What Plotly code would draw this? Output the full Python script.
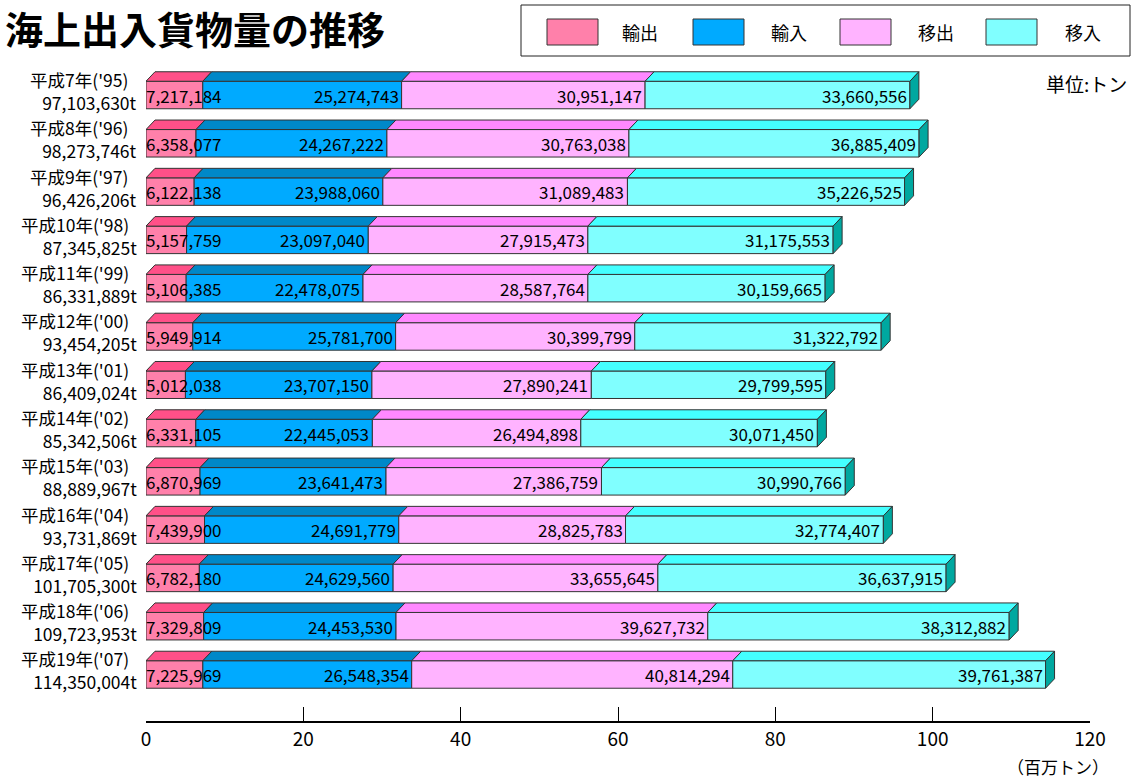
import plotly.graph_objects as go

# ---------------- data ----------------
years = ["平成7年('95)", "平成8年('96)", "平成9年('97)", "平成10年('98)", "平成11年('99)",
         "平成12年('00)", "平成13年('01)", "平成14年('02)", "平成15年('03)", "平成16年('04)",
         "平成17年('05)", "平成18年('06)", "平成19年('07)"]
export_t = [7217184, 6358077, 6122138, 5157759, 5106385, 5949914, 5012038,
            6331105, 6870969, 7439900, 6782180, 7329809, 7225969]
import_t = [25274743, 24267222, 23988060, 23097040, 22478075, 25781700, 23707150,
            22445053, 23641473, 24691779, 24629560, 24453530, 26548354]
shipout_t = [30951147, 30763038, 31089483, 27915473, 28587764, 30399799, 27890241,
             26494898, 27386759, 28825783, 33655645, 39627732, 40814294]
shipin_t = [33660556, 36885409, 35226525, 31175553, 30159665, 31322792, 29799595,
            30071450, 30990766, 32774407, 36637915, 38312882, 39761387]
series_names = ["輸出", "輸入", "移出", "移入"]
x_ticks = [0, 20, 40, 60, 80, 100, 120]

# ---------------- style ----------------
front_cols = ["#FF80AA", "#00AAFF", "#FFB3FF", "#80FFFF"]
top_cols = ["#FF5088", "#0088C8", "#FF88FF", "#44FFFF"]
side_col = "#00A8A0"
edge = "#333333"
FONT = "Noto Sans CJK JP"

# pixel geometry of the page
L, R, T, B = 146, 1090, 60, 721
W_PX, H_PX = R - L, B - T
X_MAX = 120.0
ROW0_PX, ROW_STEP = 95.0, 48.29
y_lo = (T - ROW0_PX) / ROW_STEP
y_hi = (B - ROW0_PX) / ROW_STEP
bar_w = 27.5 / ROW_STEP
dx = 9.0 * X_MAX / W_PX           # depth offset in data units (x)
dy = 9.5 / ROW_STEP               # depth offset in data units (y)


def px(xp):
    return (xp - L) / W_PX


def py(yp):
    return (B - yp) / H_PX


series = [export_t, import_t, shipout_t, shipin_t]
n = len(years)
rows = list(range(n))

fig = go.Figure()
bases = [0.0] * n
seg_bounds = []
for j, vals in enumerate(series):
    vm = [v / 1e6 for v in vals]
    fig.add_trace(go.Bar(
        y=rows, x=vm, base=bases, orientation="h", width=bar_w,
        marker=dict(color=front_cols[j], line=dict(color=edge, width=1)),
        name=series_names[j], showlegend=False, hoverinfo="skip"))
    seg_bounds.append([(bases[i], bases[i] + vm[i]) for i in range(n)])
    bases = [bases[i] + vm[i] for i in range(n)]

shapes = []
annotations = []
for i in rows:
    top = i - bar_w / 2
    bot = i + bar_w / 2
    for j in range(4):
        x0, x1 = seg_bounds[j][i]
        shapes.append(dict(
            type="path", xref="x", yref="y", layer="above",
            path=f"M{x0},{top} L{x1},{top} L{x1+dx},{top-dy} L{x0+dx},{top-dy} Z",
            fillcolor=top_cols[j], line=dict(color=edge, width=1)))
    xe = seg_bounds[3][i][1]
    shapes.append(dict(
        type="path", xref="x", yref="y", layer="above",
        path=f"M{xe},{top} L{xe+dx},{top-dy} L{xe+dx},{bot-dy} L{xe},{bot} Z",
        fillcolor=side_col, line=dict(color=edge, width=1)))

    # value labels
    for j in range(4):
        x0, x1 = seg_bounds[j][i]
        val = series[j][i]
        if j == 0:
            annotations.append(dict(x=x0, y=i, xref="x", yref="y", text=f"{val:,}",
                                    xanchor="left", yanchor="middle", showarrow=False,
                                    xshift=-1, yshift=0, borderpad=0,
                                    font=dict(size=17, color="black", family=FONT)))
        else:
            annotations.append(dict(x=x1, y=i, xref="x", yref="y", text=f"{val:,}",
                                    xanchor="right", yanchor="middle", showarrow=False,
                                    xshift=-2, yshift=0, borderpad=0,
                                    font=dict(size=17, color="black", family=FONT)))
    # category labels (year + total, two lines)
    total = sum(s[i] for s in series)
    annotations.append(dict(x=0, y=i, xref="x", yref="y",
                            text=f"{years[i]}&nbsp;&nbsp;<br>{total:,}t",
                            align="right", xanchor="right", yanchor="middle",
                            showarrow=False, xshift=-8, yshift=4, borderpad=0,
                            font=dict(size=17.5, color="black", family=FONT)))

# custom legend box
shapes.append(dict(type="rect", xref="paper", yref="paper",
                   x0=px(521), x1=px(1130), y0=py(56), y1=py(5),
                   line=dict(color="#222222", width=1), fillcolor="white", layer="above"))
sw_x = [547, 693, 840, 986]
lab_x = [640, 789, 936, 1083]
for j in range(4):
    shapes.append(dict(type="rect", xref="paper", yref="paper",
                       x0=px(sw_x[j]), x1=px(sw_x[j] + 51), y0=py(45), y1=py(19),
                       fillcolor=front_cols[j], line=dict(color=edge, width=1), layer="above"))
    annotations.append(dict(x=px(lab_x[j]), y=py(32), xref="paper", yref="paper",
                            text=series_names[j], showarrow=False,
                            xanchor="center", yanchor="middle",
                            font=dict(size=18, color="black", family=FONT)))

# title and unit notes
annotations.append(dict(x=px(4), y=py(28), xref="paper", yref="paper",
                        text="<b>海上出入貨物量の推移</b>", showarrow=False,
                        xanchor="left", yanchor="middle", borderpad=0,
                        font=dict(size=38, color="black", family=FONT)))
annotations.append(dict(x=px(1129), y=py(83), xref="paper", yref="paper",
                        text="単位:トン", showarrow=False,
                        xanchor="right", yanchor="middle",
                        font=dict(size=19, color="black", family=FONT)))
annotations.append(dict(x=px(1111), y=py(766), xref="paper", yref="paper",
                        text="（百万トン）", showarrow=False,
                        xanchor="right", yanchor="middle",
                        font=dict(size=17, color="black", family=FONT)))

fig.update_layout(
    width=1133, height=781,
    margin=dict(l=L, r=1133 - R, t=T, b=781 - B, pad=0, autoexpand=False),
    paper_bgcolor="white", plot_bgcolor="white",
    barmode="overlay",
    shapes=shapes, annotations=annotations,
    xaxis=dict(range=[0, X_MAX], tickvals=x_ticks, ticktext=[str(t) for t in x_ticks],
               showgrid=False, zeroline=False, showline=True, linecolor="black",
               linewidth=2, ticks="inside", ticklen=14, tickwidth=1, tickcolor="black",
               tickfont=dict(size=19, color="black", family=FONT), fixedrange=True),
    yaxis=dict(range=[y_hi, y_lo], showticklabels=False, showgrid=False,
               zeroline=False, showline=False, ticks="", fixedrange=True),
    font=dict(family=FONT),
)

fig.write_html("out.html", config={"displayModeBar": False},
               post_script="document.body.style.margin='0';document.body.style.overflow='hidden';")
